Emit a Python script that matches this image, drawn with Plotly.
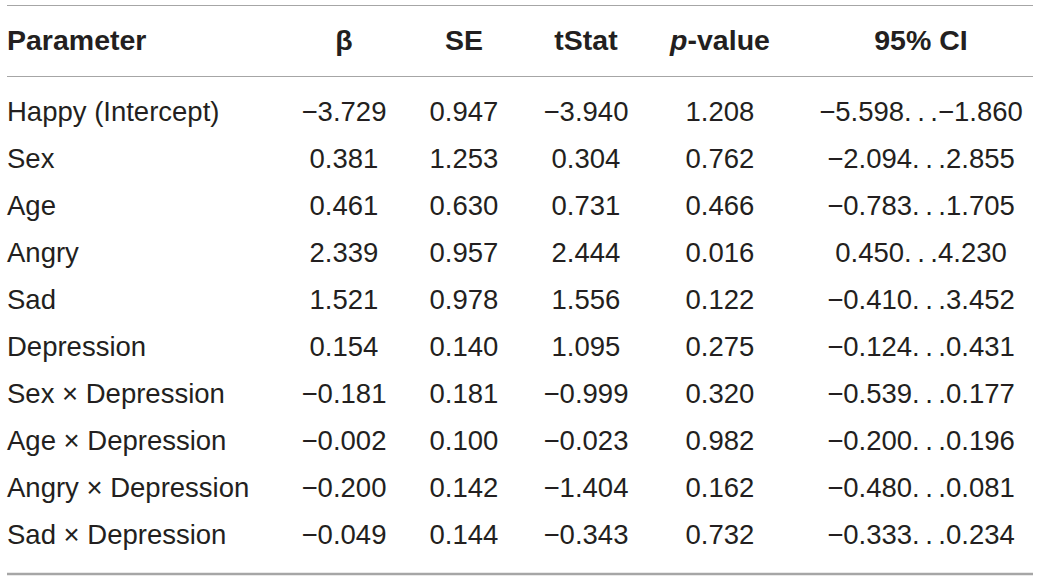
import plotly.graph_objects as go

# ---------- DATA ----------
parameters = ["Happy (Intercept)", "Sex", "Age", "Angry", "Sad", "Depression",
              "Sex × Depression", "Age × Depression", "Angry × Depression", "Sad × Depression"]
beta = [-3.729, 0.381, 0.461, 2.339, 1.521, 0.154, -0.181, -0.002, -0.200, -0.049]
se = [0.947, 1.253, 0.630, 0.957, 0.978, 0.140, 0.181, 0.100, 0.142, 0.144]
tstat = [-3.940, 0.304, 0.731, 2.444, 1.556, 1.095, -0.999, -0.023, -1.404, -0.343]
pvalue = [1.208, 0.762, 0.466, 0.016, 0.122, 0.275, 0.320, 0.982, 0.162, 0.732]
ci_low = [-5.598, -2.094, -0.783, 0.450, -0.410, -0.124, -0.539, -0.200, -0.480, -0.333]
ci_high = [-1.860, 2.855, 1.705, 4.230, 3.452, 0.431, 0.177, 0.196, 0.081, 0.234]

headers = ["Parameter", "β", "SE", "tStat", "<i>p</i>-value", "95% CI"]


def fmt(v):
    s = f"{v:.3f}"
    return s.replace("-", "\u2212")


ci_text = [fmt(a) + ".\u2009.\u2009." + fmt(b) for a, b in zip(ci_low, ci_high)]

columns = [
    parameters,
    [fmt(v) for v in beta],
    [fmt(v) for v in se],
    [fmt(v) for v in tstat],
    [fmt(v) for v in pvalue],
    ci_text,
]

# layout (pixel units on hidden axes)
col_x = [7, 344, 464, 586, 720, 921]
header_y = 43
row_top = 114.5
row_step = 47
line_left, line_right = 7, 1033

txt_color = "#231f20"
font_family = "Liberation Sans, Arial, sans-serif"
font_size = 27.5

fig = go.Figure()

row_y = [row_top + row_step * i for i in range(len(parameters))]

# ---------- HEADER ----------
for i, h in enumerate(headers):
    fig.add_trace(
        go.Scatter(x=[col_x[i]], y=[header_y],
            mode="text",
            text=["<b>" + h + "</b>"],
            textposition="middle right" if i == 0 else "middle center",
            textfont=dict(family=font_family, size=28.5, color=txt_color),
            hoverinfo="skip",
            showlegend=False)
    )

# ---------- BODY ----------
for i, col in enumerate(columns):
    fig.add_trace(
        go.Scatter(x=[col_x[i]] * len(col), y=row_y,
            mode="text",
            text=col,
            textposition="middle right" if i == 0 else "middle center",
            textfont=dict(family=font_family, size=font_size, color=txt_color),
            hoverinfo="skip",
            showlegend=False)
    )

# ---------- RULES ----------
rules = [(5.5, 1.2), (76.5, 1.2), (574, 2.4)]
for y, w in rules:
    fig.add_shape(type="line", xref="x", yref="y",
                  x0=line_left, x1=line_right, y0=y, y1=y,
                  line=dict(color="#a6a6a6", width=w))

fig.update_xaxes(range=[0, 1040], visible=False, fixedrange=True)
fig.update_yaxes(range=[580, 0], visible=False, fixedrange=True)
fig.update_layout(width=1040, height=580,
                  margin=dict(l=0, r=0, t=0, b=0),
                  plot_bgcolor="white", paper_bgcolor="white")

fig.write_html("out.html", config={"displayModeBar": False},
               post_script="document.body.style.margin='0px';")
